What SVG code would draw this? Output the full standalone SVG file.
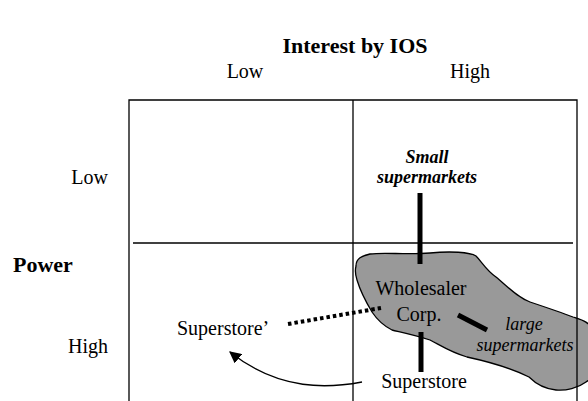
<svg xmlns="http://www.w3.org/2000/svg" width="588" height="401" viewBox="0 0 588 401">
  <style>
    text { font-family: "Liberation Serif", "Times New Roman", serif; fill: #000; }
    .t { font-size: 20px; }
    .b { font-weight: bold; }
    .i { font-style: italic; font-size: 18px; }
    .grid { stroke: #000; stroke-width: 1.3; fill: none; }
    .bar { stroke: #000; stroke-width: 5; fill: none; }
  </style>
  <defs>
    <marker id="arrow" viewBox="0 0 10 10" refX="9" refY="5" markerWidth="12" markerHeight="12" markerUnits="userSpaceOnUse" orient="auto">
      <path d="M0,0 L10,5 L0,10 z" fill="#000"/>
    </marker>
  </defs>
  <rect width="588" height="401" fill="#fff"/>

  <!-- axis titles and labels -->
  <g id="axes">
    <text x="355" y="53" text-anchor="middle" class="b" font-size="22">Interest by IOS</text>
    <text x="245" y="78" text-anchor="middle" class="t">Low</text>
    <text x="470" y="78" text-anchor="middle" class="t">High</text>
    <text x="108" y="184" text-anchor="end" class="t">Low</text>
    <text x="13" y="272" class="b" font-size="22">Power</text>
    <text x="108" y="353" text-anchor="end" class="t">High</text>
  </g>

  <!-- wholesaler region -->
  <g id="wholesaler">
    <path d="M356,266 C356,258 362,256 370,254 C385,252 405,255 430,253 C450,251 470,252 476,256 C482,262 486,270 496,277 C508,287 518,298 530,302 C545,307 560,312 573,317 C582,320 590,322 592,330 V372 C592,378 589,380 586,382 C578,388 566,391 556,390 C546,389 536,384 529,377 C515,370 490,362 467,357 C450,352 440,345 430,340 C415,335 400,332 392,330 C384,326 376,318 372,312 C366,302 360,290 357,280 C355,274 355,270 356,266 Z" fill="#999" stroke="#000" stroke-width="1.3"/>
    <text x="421" y="295" text-anchor="middle" class="t">Wholesaler</text>
    <text x="419" y="321" text-anchor="middle" class="t">Corp.</text>
  </g>

  <!-- quadrant grid, drawn over the region -->
  <g id="grid" class="grid">
    <path d="M129,401 V100 H577 V401"/>
    <path d="M353,100 V401"/>
    <path d="M133,243 H573"/>
  </g>

  <g id="small-supermarkets">
    <text x="427" y="163" text-anchor="middle" class="i b">Small</text>
    <text x="427" y="183" text-anchor="middle" class="i b">supermarkets</text>
  </g>

  <g id="large-supermarkets">
    <text x="524" y="330" text-anchor="middle" class="i">large</text>
    <text x="525" y="351" text-anchor="middle" class="i">supermarkets</text>
  </g>

  <g id="superstore">
    <text x="424" y="388" text-anchor="middle" class="t">Superstore</text>
  </g>

  <g id="superstore-prime">
    <text x="177" y="335" class="t">Superstore’</text>
  </g>

  <!-- connectors -->
  <g id="connectors">
    <path class="bar" d="M420,193 V264"/>
    <path class="bar" d="M421,332 V372"/>
    <path class="bar" d="M458,315 L487,330"/>
    <path d="M288,324 L381,308" stroke="#000" stroke-width="4" stroke-dasharray="3.5,3" fill="none"/>
    <path d="M362,382 C330,388 280,392 230,352" stroke="#000" stroke-width="1.3" fill="none" marker-end="url(#arrow)"/>
  </g>
</svg>
